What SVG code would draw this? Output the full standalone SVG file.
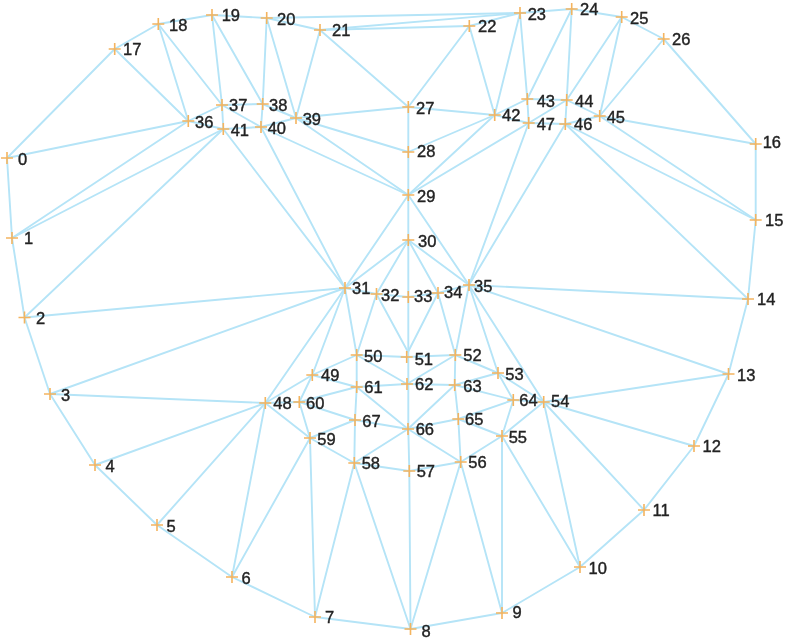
<svg xmlns="http://www.w3.org/2000/svg" width="785" height="639" viewBox="0 0 785 639">
<style>
#connectors path{fill:none;stroke:#b5e4f7;stroke-width:1.9;stroke-linecap:round}
.m{fill:none;stroke:#f4b45f;stroke-width:1.6}
text{font-family:"Liberation Sans",Arial,sans-serif;font-size:16.5px;fill:#222;stroke:#222;stroke-width:.4}
</style>
<defs>
<path id="p" class="m" d="M-6 0H6M0-6V6"/>
<filter id="soft" x="-2%" y="-2%" width="104%" height="104%"><feGaussianBlur stdDeviation="0.35"/></filter>
</defs>
<rect width="785" height="639" fill="#fff"/>
<g filter="url(#soft)">
<g id="connectors">
<path d="M7 158L12 238"/><path d="M12 238L24.500 317.500"/><path d="M24.500 317.500L50 394"/><path d="M50 394L95 465"/><path d="M95 465L157 525"/><path d="M157 525L232 577"/><path d="M232 577L315 617"/><path d="M315 617L410.500 629"/><path d="M410.500 629L502 613"/><path d="M502 613L580 567"/><path d="M580 567L644 510"/><path d="M644 510L694 446"/><path d="M694 446L728.500 374"/><path d="M728.500 374L748 299"/><path d="M748 299L755.700 220"/><path d="M755.700 220L755.700 144"/><path d="M755.700 144L663.700 39"/>
<path d="M7 158L114.700 49"/><path d="M114.700 49L158.300 24"/><path d="M158.300 24L212 15"/><path d="M212 15L266.700 18"/><path d="M266.700 18L320 30"/><path d="M266.700 18L520 13"/><path d="M320 30L520 13"/><path d="M320 30L469.300 26"/><path d="M469.300 26L520 13"/><path d="M520 13L571.700 9"/><path d="M571.700 9L621.700 17"/><path d="M621.700 17L663.700 39"/>
<path d="M114.700 49L188.300 121"/><path d="M158.300 24L188.300 121"/><path d="M158.300 24L222 105"/><path d="M212 15L222 105"/><path d="M212 15L262.700 104"/><path d="M266.700 18L262.700 104"/><path d="M262.700 104L261 127"/><path d="M266.700 18L296 118"/><path d="M320 30L296 118"/><path d="M320 30L408.300 107"/><path d="M469.300 26L408.300 107"/><path d="M469.300 26L494.700 115"/><path d="M520 13L494.700 115"/><path d="M520 13L527.300 99"/><path d="M571.700 9L527.300 99"/><path d="M571.700 9L566.700 100"/><path d="M621.700 17L566.700 100"/><path d="M621.700 17L599.700 116"/><path d="M663.700 39L599.700 116"/>
<path d="M599.700 116L755.700 144"/><path d="M599.700 116L755.700 220"/><path d="M565.300 124L755.700 220"/><path d="M565.300 124L748 299"/>
<path d="M188.300 121L222 105"/><path d="M222 105L262.700 104"/><path d="M262.700 104L296 118"/><path d="M296 118L261 127"/><path d="M261 127L223.300 129"/><path d="M223.300 129L188.300 121"/><path d="M222 105L223.300 129"/><path d="M222 105L261 127"/>
<path d="M188.300 121L7 158"/><path d="M188.300 121L12 238"/><path d="M223.300 129L12 238"/><path d="M223.300 129L24.500 317.500"/><path d="M223.300 129L345 288"/><path d="M261 127L345 288"/><path d="M261 127L408.300 195"/><path d="M296 118L408.300 195"/><path d="M296 118L408.300 152"/><path d="M296 118L408.300 107"/>
<path d="M408.300 107L494.700 115"/><path d="M494.700 115L408.300 152"/><path d="M494.700 115L408.300 195"/><path d="M528.700 123L408.300 195"/><path d="M528.700 123L469 285"/><path d="M565.300 124L469 285"/>
<path d="M494.700 115L527.300 99"/><path d="M527.300 99L566.700 100"/><path d="M566.700 100L599.700 116"/><path d="M599.700 116L565.300 124"/><path d="M565.300 124L528.700 123"/><path d="M528.700 123L494.700 115"/><path d="M527.300 99L528.700 123"/><path d="M566.700 100L565.300 124"/><path d="M566.700 100L528.700 123"/>
<path d="M408.300 107L408.300 152"/><path d="M408.300 152L408.300 195"/><path d="M408.300 195L408.300 240"/><path d="M408.300 240L408.300 297"/><path d="M408.300 297L408.300 357"/><path d="M408.300 357L408.300 384"/><path d="M408.300 384L408.300 429"/><path d="M408.300 429L409.300 471"/><path d="M409.300 471L410.500 629"/>
<path d="M408.300 195L345 288"/><path d="M408.300 195L469 285"/><path d="M408.300 240L345 288"/><path d="M408.300 240L376.500 294"/><path d="M408.300 240L438 293"/><path d="M408.300 240L469 285"/>
<path d="M345 288L376.500 294"/><path d="M376.500 294L408.300 297"/><path d="M408.300 297L438 293"/><path d="M438 293L469 285"/>
<path d="M345 288L24.500 317.500"/><path d="M345 288L50 394"/><path d="M345 288L265.300 403"/><path d="M345 288L312.300 375"/><path d="M345 288L356.700 355"/><path d="M376.500 294L356.700 355"/><path d="M376.500 294L408 352"/><path d="M438 293L408 352"/><path d="M438 293L455.300 355"/><path d="M469 285L455.300 355"/><path d="M469 285L498 373"/><path d="M469 285L543.700 402"/><path d="M469 285L728.500 374"/><path d="M469 285L748 299"/>
<path d="M356.700 355L312.300 375"/><path d="M356.700 355L406.700 357"/><path d="M406.700 357L455.300 355"/><path d="M455.300 355L498 373"/><path d="M498 373L543.700 402"/><path d="M543.700 402L728.500 374"/><path d="M543.700 402L694 446"/><path d="M543.700 402L644 510"/><path d="M543.700 402L580 567"/><path d="M543.700 402L502 436"/><path d="M543.700 402L513.300 400"/>
<path d="M502 436L513.300 400"/><path d="M502 436L458.300 419"/><path d="M502 436L460.700 462"/><path d="M502 436L580 567"/><path d="M502 436L502 613"/>
<path d="M460.700 462L409.300 471"/><path d="M460.700 462L408 429"/><path d="M460.700 462L458.300 419"/><path d="M460.700 462L410.500 629"/><path d="M460.700 462L502 613"/>
<path d="M409.300 471L354.300 463"/><path d="M354.300 463L310 438"/><path d="M354.300 463L408 429"/><path d="M354.300 463L355 420"/><path d="M354.300 463L315 617"/><path d="M354.300 463L410.500 629"/>
<path d="M310 438L232 577"/><path d="M310 438L315 617"/><path d="M310 438L265.300 403"/><path d="M310 438L299.300 402"/><path d="M310 438L355 420"/>
<path d="M265.300 403L312.300 375"/><path d="M265.300 403L299.300 402"/><path d="M265.300 403L50 394"/><path d="M265.300 403L95 465"/><path d="M265.300 403L157 525"/><path d="M265.300 403L232 577"/>
<path d="M312.300 375L299.300 402"/><path d="M312.300 375L356.700 387"/><path d="M299.300 402L356.700 387"/><path d="M299.300 402L355 420"/><path d="M356.700 387L407 384"/><path d="M356.700 387L408 429"/><path d="M356.700 387L355 420"/><path d="M356.700 355L356.700 387"/><path d="M356.700 355L407 384"/>
<path d="M407 384L454.700 385"/><path d="M455.300 355L407 384"/><path d="M455.300 355L454.700 385"/><path d="M454.700 385L513.300 400"/><path d="M454.700 385L458.300 419"/><path d="M454.700 385L408 429"/><path d="M498 373L454.700 385"/><path d="M498 373L513.300 400"/><path d="M513.300 400L458.300 419"/><path d="M458.300 419L408 429"/><path d="M408 429L355 420"/>
</g>
<g id="n0"><use href="#p" x="7" y="158"/><text x="18" y="165">0</text></g>
<g id="n1"><use href="#p" x="12" y="238"/><text x="24" y="244">1</text></g>
<g id="n2"><use href="#p" x="24.500" y="317.500"/><text x="36" y="323.500">2</text></g>
<g id="n3"><use href="#p" x="50" y="394"/><text x="61" y="401">3</text></g>
<g id="n4"><use href="#p" x="95" y="465"/><text x="105.500" y="472">4</text></g>
<g id="n5"><use href="#p" x="157" y="525"/><text x="166.500" y="532">5</text></g>
<g id="n6"><use href="#p" x="232" y="577"/><text x="241.500" y="584">6</text></g>
<g id="n7"><use href="#p" x="315" y="617"/><text x="325" y="623">7</text></g>
<g id="n8"><use href="#p" x="410.500" y="629"/><text x="421.500" y="637">8</text></g>
<g id="n9"><use href="#p" x="502" y="613"/><text x="512.500" y="618">9</text></g>
<g id="n10"><use href="#p" x="580" y="567"/><text x="588.500" y="574">10</text></g>
<g id="n11"><use href="#p" x="644" y="510"/><text x="652.500" y="516">11</text></g>
<g id="n12"><use href="#p" x="694" y="446"/><text x="702.500" y="452">12</text></g>
<g id="n13"><use href="#p" x="728.500" y="374"/><text x="737" y="381">13</text></g>
<g id="n14"><use href="#p" x="748" y="299"/><text x="757" y="305">14</text></g>
<g id="n15"><use href="#p" x="755.700" y="220"/><text x="765" y="226">15</text></g>
<g id="n16"><use href="#p" x="755.700" y="144"/><text x="762.700" y="148">16</text></g>
<g id="n17"><use href="#p" x="114.700" y="49"/><text x="123" y="55">17</text></g>
<g id="n18"><use href="#p" x="158.300" y="24"/><text x="169" y="31">18</text></g>
<g id="n19"><use href="#p" x="212" y="15"/><text x="221.700" y="21">19</text></g>
<g id="n20"><use href="#p" x="266.700" y="18"/><text x="277" y="25">20</text></g>
<g id="n21"><use href="#p" x="320" y="30"/><text x="332" y="36">21</text></g>
<g id="n22"><use href="#p" x="469.300" y="26"/><text x="478" y="32">22</text></g>
<g id="n23"><use href="#p" x="520" y="13"/><text x="527.700" y="20">23</text></g>
<g id="n24"><use href="#p" x="571.700" y="9"/><text x="580" y="15">24</text></g>
<g id="n25"><use href="#p" x="621.700" y="17"/><text x="630" y="24">25</text></g>
<g id="n26"><use href="#p" x="663.700" y="39"/><text x="672" y="45">26</text></g>
<g id="n27"><use href="#p" x="408.300" y="107"/><text x="416" y="114">27</text></g>
<g id="n28"><use href="#p" x="408.300" y="152"/><text x="417" y="157">28</text></g>
<g id="n29"><use href="#p" x="408.300" y="195"/><text x="417" y="201.700">29</text></g>
<g id="n30"><use href="#p" x="408.300" y="240"/><text x="418" y="247">30</text></g>
<g id="n31"><use href="#p" x="345" y="288"/><text x="352" y="294">31</text></g>
<g id="n32"><use href="#p" x="376.500" y="294"/><text x="381" y="301">32</text></g>
<g id="n33"><use href="#p" x="408.300" y="297"/><text x="414" y="302">33</text></g>
<g id="n34"><use href="#p" x="438" y="293"/><text x="444" y="298">34</text></g>
<g id="n35"><use href="#p" x="469" y="285"/><text x="474" y="291.700">35</text></g>
<g id="n36"><use href="#p" x="188.300" y="121"/><text x="195" y="128">36</text></g>
<g id="n37"><use href="#p" x="222" y="105"/><text x="229" y="110.500">37</text></g>
<g id="n38"><use href="#p" x="262.700" y="104"/><text x="269" y="110.500">38</text></g>
<g id="n39"><use href="#p" x="296" y="118"/><text x="302.700" y="125">39</text></g>
<g id="n40"><use href="#p" x="261" y="127"/><text x="267.700" y="134">40</text></g>
<g id="n41"><use href="#p" x="223.300" y="129"/><text x="230.700" y="135.500">41</text></g>
<g id="n42"><use href="#p" x="494.700" y="115"/><text x="502" y="121">42</text></g>
<g id="n43"><use href="#p" x="527.300" y="99"/><text x="536.700" y="106.500">43</text></g>
<g id="n44"><use href="#p" x="566.700" y="100"/><text x="575" y="107">44</text></g>
<g id="n45"><use href="#p" x="599.700" y="116"/><text x="606.700" y="123">45</text></g>
<g id="n46"><use href="#p" x="565.300" y="124"/><text x="574" y="130">46</text></g>
<g id="n47"><use href="#p" x="528.700" y="123"/><text x="536.700" y="130">47</text></g>
<g id="n48"><use href="#p" x="265.300" y="403"/><text x="273.300" y="409">48</text></g>
<g id="n49"><use href="#p" x="312.300" y="375"/><text x="321" y="380.700">49</text></g>
<g id="n50"><use href="#p" x="356.700" y="355"/><text x="364" y="362.300">50</text></g>
<g id="n51"><use href="#p" x="406.700" y="357"/><text x="414.700" y="365">51</text></g>
<g id="n52"><use href="#p" x="455.300" y="355"/><text x="463.300" y="361.300">52</text></g>
<g id="n53"><use href="#p" x="498" y="373"/><text x="505.300" y="380">53</text></g>
<g id="n54"><use href="#p" x="543.700" y="402"/><text x="551" y="407.300">54</text></g>
<g id="n55"><use href="#p" x="502" y="436"/><text x="508.700" y="443.300">55</text></g>
<g id="n56"><use href="#p" x="460.700" y="462"/><text x="468.300" y="468.300">56</text></g>
<g id="n57"><use href="#p" x="409.300" y="471"/><text x="416.700" y="477.300">57</text></g>
<g id="n58"><use href="#p" x="354.300" y="463"/><text x="361.700" y="469.300">58</text></g>
<g id="n59"><use href="#p" x="310" y="438"/><text x="317.300" y="445">59</text></g>
<g id="n60"><use href="#p" x="299.300" y="402"/><text x="306" y="409">60</text></g>
<g id="n61"><use href="#p" x="356.700" y="387"/><text x="364.300" y="393.300">61</text></g>
<g id="n62"><use href="#p" x="407" y="384"/><text x="415" y="390">62</text></g>
<g id="n63"><use href="#p" x="454.700" y="385"/><text x="463.300" y="391.700">63</text></g>
<g id="n64"><use href="#p" x="513.300" y="400"/><text x="519.300" y="405.700">64</text></g>
<g id="n65"><use href="#p" x="458.300" y="419"/><text x="465" y="425">65</text></g>
<g id="n66"><use href="#p" x="408" y="429"/><text x="415.700" y="435">66</text></g>
<g id="n67"><use href="#p" x="355" y="420"/><text x="362.300" y="426.700">67</text></g>
</g>
</svg>
